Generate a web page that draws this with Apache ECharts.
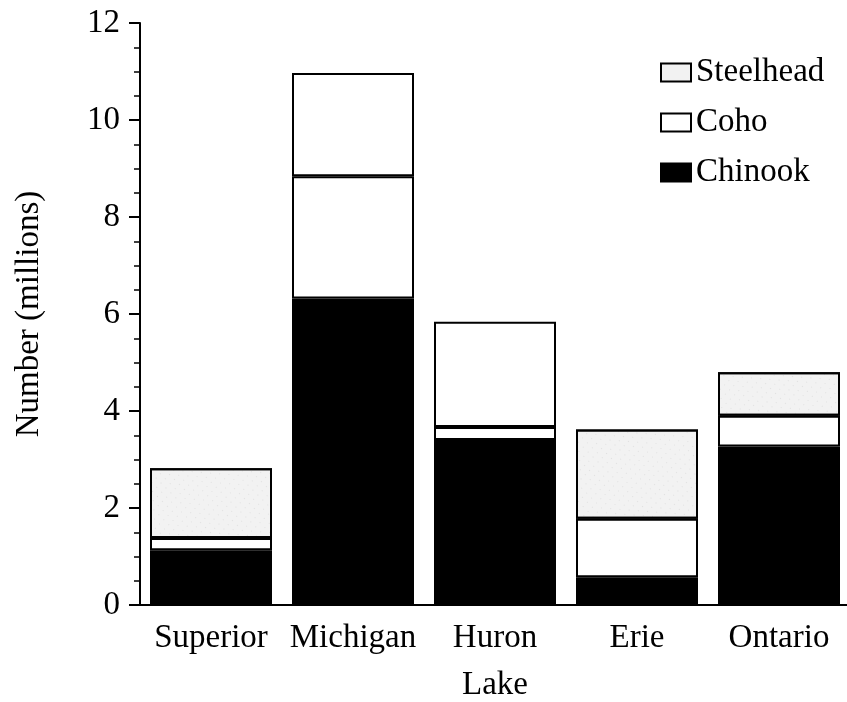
<!DOCTYPE html>
<html>
<head>
<meta charset="utf-8">
<script src="https://cdn.jsdelivr.net/npm/echarts@6/dist/echarts.min.js"></script>
<style>
html,body{margin:0;padding:0;background:#fff;}
#chart{width:847px;height:702px;}
</style>
</head>
<body>
<div id="chart"></div>
<script>
const categories = ['Superior', 'Michigan', 'Huron', 'Erie', 'Ontario'];
const chinook = [1.13, 6.32, 3.40, 0.57, 3.27];
const coho = [0.25, 2.52, 0.27, 1.21, 0.63];
const steelhead = [1.44, 2.13, 2.17, 1.84, 0.90];
const stippled = [true, false, false, true, true];

const FONT = "'Liberation Serif', 'Times New Roman', serif";

const decal = {
  symbol: 'rect',
  symbolSize: 0.4,
  color: 'rgba(0,0,0,0.35)',
  dashArrayX: [1, 5],
  dashArrayY: [1, 6],
  rotation: -0.785
};

const chart = echarts.init(document.getElementById('chart'));
chart.setOption({
  animation: false,
  backgroundColor: '#fff',
  textStyle: { fontFamily: FONT, color: '#000' },
  grid: { left: 140, right: -3, top: 23, bottom: 97, containLabel: false, outerBoundsMode: 'none' },
  legend: {
    orient: 'vertical',
    left: 655,
    top: 51,
    itemWidth: 30,
    itemHeight: 18,
    itemGap: 17,
    icon: 'rect',
    data: ['Steelhead', 'Coho', 'Chinook'],
    textStyle: { fontFamily: FONT, fontSize: 33, color: '#000', lineHeight: 33 }
  },
  xAxis: {
    type: 'category',
    data: categories,
    name: 'Lake',
    nameLocation: 'middle',
    nameGap: 64,
    nameTextStyle: { fontFamily: FONT, fontSize: 33, color: '#000' },
    axisLine: { lineStyle: { color: '#000', width: 2 } },
    axisTick: { show: false },
    axisLabel: { fontFamily: FONT, fontSize: 33, color: '#000', margin: 17, interval: 0 }
  },
  yAxis: {
    type: 'value',
    min: 0,
    max: 12,
    interval: 2,
    name: 'Number (millions)',
    nameLocation: 'middle',
    nameGap: 94,
    nameTextStyle: { fontFamily: FONT, fontSize: 33, color: '#000' },
    axisLine: { show: true, lineStyle: { color: '#000', width: 2 } },
    axisTick: { show: true, inside: false, length: 11, lineStyle: { color: '#000', width: 2 } },
    minorTick: { show: true, splitNumber: 4, length: 6, lineStyle: { color: '#000', width: 1.5 } },
    splitLine: { show: false },
    axisLabel: { fontFamily: FONT, fontSize: 33, color: '#000', margin: 20 }
  },
  series: [
    {
      name: 'Chinook',
      type: 'bar',
      stack: 'total',
      barWidth: 122,
      data: chinook,
      itemStyle: { color: '#000', borderColor: '#000', borderWidth: 2 }
    },
    {
      name: 'Coho',
      type: 'bar',
      stack: 'total',
      barWidth: 122,
      data: coho,
      itemStyle: { color: '#fff', borderColor: '#000', borderWidth: 2 }
    },
    {
      name: 'Steelhead',
      type: 'bar',
      stack: 'total',
      barWidth: 122,
      data: steelhead.map((v, i) => ({
        value: v,
        itemStyle: stippled[i]
          ? { color: '#f2f2f2', decal: decal }
          : { color: '#ffffff' }
      })),
      itemStyle: { color: '#f2f2f2', borderColor: '#000', borderWidth: 2 }
    }
  ]
});
</script>
</body>
</html>
